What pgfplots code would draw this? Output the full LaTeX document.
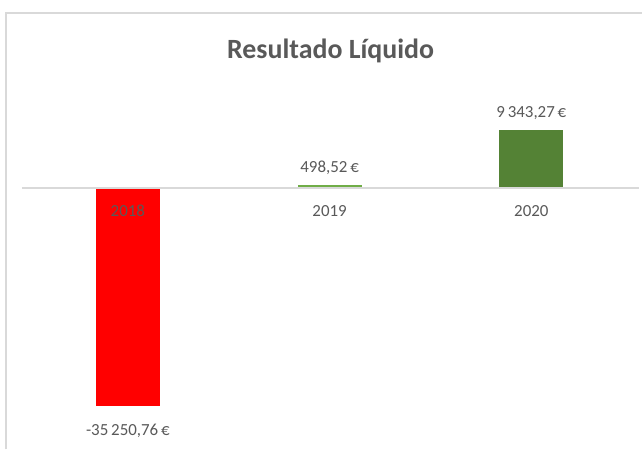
\documentclass[border=0pt]{standalone}
\usepackage{pgfplots}
\pgfplotsset{compat=1.18}
\usepackage{fontspec}
\setmainfont{Carlito}
\definecolor{txt}{HTML}{595959}
\definecolor{grid}{HTML}{D9D9D9}
\definecolor{neg}{HTML}{FF0000}
\definecolor{lgreen}{HTML}{70AD47}
\definecolor{dgreen}{HTML}{548235}
\begin{document}
\begin{tikzpicture}[x=1bp,y=1bp]
\fill[white] (0,0) rectangle (643,450);
\draw[grid, line width=1.5bp] (6,0) -- (6,437) -- (643,437);
\node[text=txt, font=\fontsize{28}{33}\selectfont\bfseries] at (331,399) {Resultado Líquido};
\begin{axis}[
  at={(22bp,0bp)}, anchor=south west,
  scale only axis, width=618bp, height=437bp,
  xmin=-0.525, xmax=2.535,
  ymin=-42366, ymax=28297,
  axis x line=middle, axis y line=none,
  axis on top,
  x axis line style={grid, line width=1.5bp, -},
  xtick={0,1,2}, xticklabels={2018,2019,2020},
  major tick length=0pt,
  xticklabel style={text=txt, font=\fontsize{17}{20}\selectfont, yshift=-14bp},
  ytick=\empty,
  ybar, bar width=64bp,
  /pgf/number format/assume math mode=true,
  nodes near coords={\pgfmathprintnumber[fixed, fixed zerofill, precision=2, use comma, 1000 sep={\,}]{\pgfplotspointmeta}\,€},
  every node near coord/.append style={text=txt, font=\fontsize{17}{20}\selectfont, inner sep=10bp},
  point meta=y,
  clip=false,
]
\addplot[fill=neg, draw=none, bar shift=0pt, every node near coord/.append style={yshift=-8bp}] coordinates {(0,-35250.76)};
\addplot[fill=lgreen, draw=none, bar shift=0pt] coordinates {(1,498.52)};
\addplot[fill=dgreen, draw=none, bar shift=0pt] coordinates {(2,9343.27)};
\end{axis}
\end{tikzpicture}
\end{document}
